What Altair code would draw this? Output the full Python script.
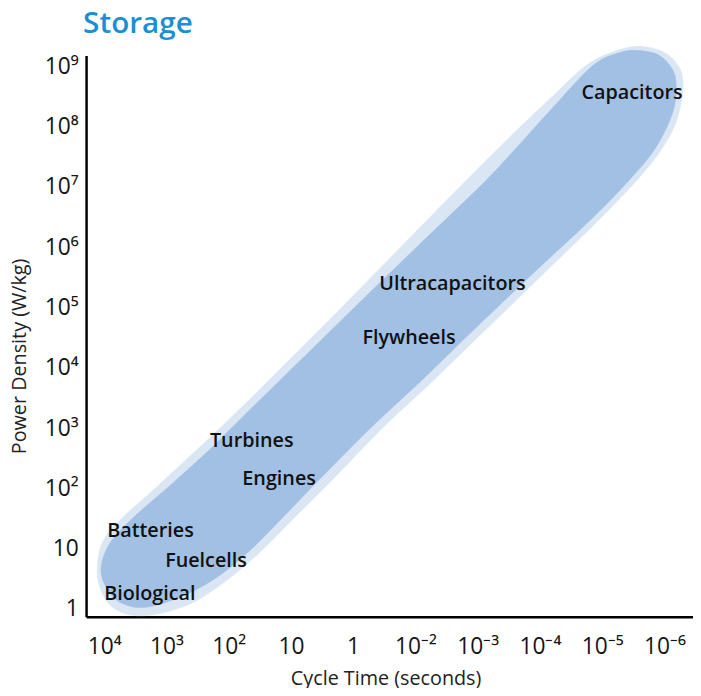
import json
import altair as alt
import pandas as pd

# Axis tick labels (category positions 0..9)
x_labels = ["10⁴", "10³", "10²", "10", "1", "10⁻²", "10⁻³", "10⁻⁴", "10⁻⁵", "10⁻⁶"]
y_labels = ["1", "10", "10²", "10³", "10⁴", "10⁵", "10⁶", "10⁷", "10⁸", "10⁹"]

# Outer (light) envelope, in (cycle-time position, log10 power density)
outer_x = [-0.11, -0.03, 0.27, 0.87, 1.51, 2.14, 3.10, 4.05, 5.00, 5.79, 6.59, 7.22, 7.70,
           8.10, 8.57, 9.00, 9.24, 9.30, 9.25, 9.13, 8.90, 8.62, 8.27, 7.86, 7.22, 6.27,
           5.32, 4.52, 3.73, 3.10, 2.49, 1.95, 1.43, 0.87, 0.43, 0.11, -0.06]
outer_y = [0.66, 1.10, 1.49, 2.05, 2.66, 3.28, 4.26, 5.25, 6.25, 7.08, 7.90, 8.52, 8.98,
           9.21, 9.33, 9.23, 8.98, 8.69, 8.30, 7.93, 7.54, 7.18, 6.79, 6.36, 5.72, 4.77,
           3.82, 3.05, 2.21, 1.56, 0.93, 0.46, 0.11, -0.08, -0.10, 0.05, 0.33]

# Inner (darker) envelope
inner_x = [-0.05, 0.08, 0.44, 1.06, 1.67, 2.22, 3.10, 4.05, 5.00, 6.08, 6.59, 7.22, 7.86,
           8.29, 8.60, 8.92, 9.13, 9.19, 9.16, 9.03, 8.81, 8.52, 8.17, 7.70, 7.03, 6.08,
           5.13, 4.33, 3.49, 2.89, 2.30, 1.76, 1.22, 0.68, 0.32, 0.08]
inner_y = [0.64, 1.07, 1.49, 2.05, 2.62, 3.18, 4.07, 5.03, 5.98, 7.05, 7.61, 8.33, 9.02,
           9.23, 9.26, 9.18, 8.95, 8.69, 8.33, 7.97, 7.57, 7.21, 6.82, 6.34, 5.70, 4.77,
           3.82, 3.05, 2.18, 1.54, 0.93, 0.49, 0.20, 0.03, 0.08, 0.28]

# Technology labels
names = ["Capacitors", "Ultracapacitors", "Flywheels", "Turbines", "Engines",
         "Batteries", "Fuelcells", "Biological"]
name_x = [7.67, 4.42, 4.15, 1.70, 2.22, 0.05, 0.98, 0.00]
name_y = [8.56, 5.39, 4.50, 2.78, 2.15, 1.29, 0.80, 0.25]

outer = pd.DataFrame({"x": outer_x, "y": outer_y, "k": range(len(outer_x))})
inner = pd.DataFrame({"x": inner_x, "y": inner_y, "k": range(len(inner_x))})
labels = pd.DataFrame({"name": names, "x": name_x, "y": name_y})

FONT = "Open Sans"
xscale = alt.Scale(domain=[-0.29, 9.46], nice=False, zero=False)
yscale = alt.Scale(domain=[-0.13, 9.18], nice=False, zero=False)

x_axis = alt.Axis(
    values=list(range(10)),
    labelExpr=json.dumps(x_labels) + "[datum.value]",
    title="Cycle Time (seconds)",
    grid=False, ticks=False, tickSize=0,
    domainColor="black", domainWidth=2.5,
    labelFont=FONT, labelFontSize=23, labelColor="#151515", labelPadding=19,
    labelFlush=False, labelOverlap=False,
    titleFont=FONT, titleFontSize=20, titleFontWeight="normal", titleColor="#222222",
    titleX=303, titleY=62, titleBaseline="middle", titleAlign="center",
)
y_axis = alt.Axis(
    values=list(range(10)),
    labelExpr=json.dumps(y_labels) + "[datum.value]",
    title="Power Density (W/kg)",
    grid=False, ticks=False, tickSize=0,
    domainColor="black", domainWidth=2.5,
    labelFont=FONT, labelFontSize=23, labelColor="#151515", labelPadding=8,
    labelFlush=False, labelOverlap=False, labelBaseline="middle",
    titleFont=FONT, titleFontSize=20, titleFontWeight="normal", titleColor="#222222",
    titleX=-67, titleY=304, titleBaseline="middle", titleAlign="center", titleAngle=-90,
)

outer_layer = alt.Chart(outer).mark_line(
    interpolate="cardinal-closed", fill="#dae6f4", stroke="#dae6f4", strokeWidth=0.5
).encode(
    x=alt.X("x:Q", scale=xscale, axis=x_axis),
    y=alt.Y("y:Q", scale=yscale, axis=y_axis),
    order="k:Q",
)
inner_layer = alt.Chart(inner).mark_line(
    interpolate="cardinal-closed", fill="#a1c0e4", stroke="#a1c0e4", strokeWidth=0.5
).encode(
    x=alt.X("x:Q", scale=xscale),
    y=alt.Y("y:Q", scale=yscale),
    order="k:Q",
)
text_layer = alt.Chart(labels).mark_text(
    align="left", baseline="middle", font=FONT, fontSize=20, fontWeight=600, color="#111111"
).encode(
    x=alt.X("x:Q", scale=xscale),
    y=alt.Y("y:Q", scale=yscale),
    text="name:N",
)

chart = alt.layer(outer_layer, inner_layer, text_layer).properties(
    width=614, height=568,
    padding={"left": 79, "top": 44, "right": 0, "bottom": 68},
    autosize=alt.AutoSizeParams(type="none"),
    title=alt.Title("Storage", anchor="start", frame="group", fontSize=30, fontWeight=600,
                    font=FONT, color="#1b8fd0", baseline="alphabetic", offset=13,
                    dx=-3, dy=30),
).configure_view(stroke=None)

chart.save("out.html", embed_options={"renderer": "svg", "actions": False})
